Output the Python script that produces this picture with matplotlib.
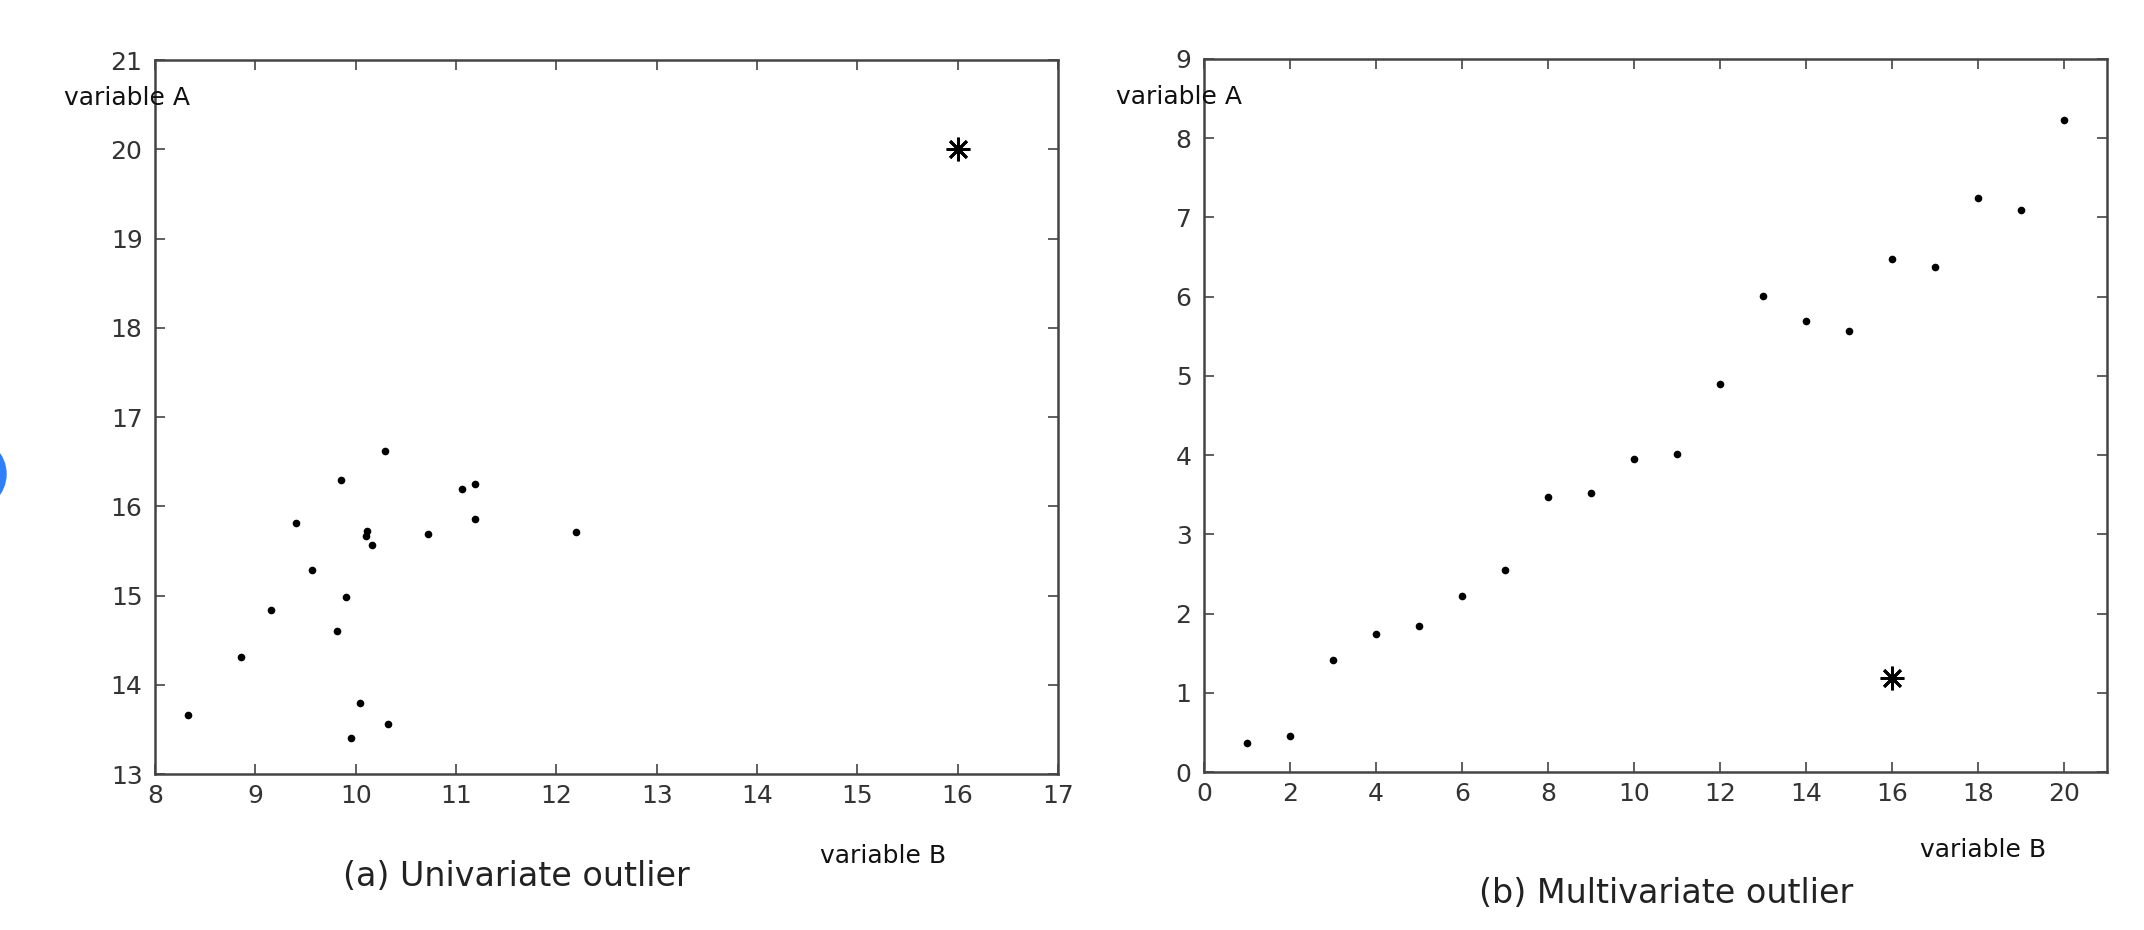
import matplotlib
matplotlib.use("Agg")
import matplotlib.pyplot as plt
from matplotlib.patches import Circle
import numpy as np

# ---- data ----
uni_b = [8.33, 8.86, 9.16, 9.41, 9.56, 9.85, 9.81, 9.90, 10.04, 9.95,
         10.11, 10.10, 10.16, 10.29, 10.32, 10.72, 11.06, 11.19, 11.19, 12.20]
uni_a = [13.66, 14.31, 14.84, 15.81, 15.29, 16.29, 14.60, 14.98, 13.79, 13.40,
         15.72, 15.67, 15.57, 16.62, 13.56, 15.69, 16.19, 16.25, 15.86, 15.71]
uni_outlier_b = [16.0]
uni_outlier_a = [20.0]

multi_b = list(range(1, 21))
multi_a = [0.37, 0.45, 1.41, 1.74, 1.84, 2.22, 2.55, 3.47, 3.52, 3.95,
           4.02, 4.90, 6.01, 5.69, 5.57, 6.48, 6.37, 7.25, 7.10, 8.23]
multi_outlier_b = [16.0]
multi_outlier_a = [1.19]

uni_xticks = list(range(8, 18))
uni_yticks = list(range(13, 22))
multi_xticks = list(range(0, 21, 2))
multi_yticks = list(range(0, 10))

caption_a = "(a) Univariate outlier"
caption_b = "(b) Multivariate outlier"
label_a = "variable A"
label_b = "variable B"

# ---- figure ----
W, H = 2144, 930
fig = plt.figure(figsize=(W / 100, H / 100), dpi=100)
fig.patch.set_facecolor("white")

def px(x, y):
    return x / W, 1 - y / H

spine_col = "#444444"
tick_col = "#333333"

def style(ax):
    for s in ax.spines.values():
        s.set_color(spine_col)
        s.set_linewidth(1.8)
    ax.tick_params(direction="in", top=True, right=True, length=7, width=1.2,
                   colors=spine_col, labelcolor=tick_col, labelsize=18)
    ax.tick_params(axis="y", pad=9)
    ax.tick_params(axis="x", pad=7)

ax1 = fig.add_axes([155 / W, 1 - 774 / H, 903 / W, 714 / H])
ax1.plot(uni_b, uni_a, "o", color="black", ms=5.5, mew=0)
ax1.plot(uni_outlier_b, uni_outlier_a, marker=(8, 2, 0), color="black",
         ms=17, mew=2.0, ls="none")
ax1.set_xlim(8, 17)
ax1.set_ylim(13, 21)
ax1.set_xticks(uni_xticks)
ax1.set_yticks(uni_yticks)
style(ax1)

ax2 = fig.add_axes([1204 / W, 1 - 772 / H, 903 / W, 713 / H])
ax2.plot(multi_b, multi_a, "o", color="black", ms=5.5, mew=0)
ax2.plot(multi_outlier_b, multi_outlier_a, marker=(8, 2, 0), color="black",
         ms=17, mew=2.0, ls="none")
ax2.set_xlim(0, 21)
ax2.set_ylim(0, 9)
ax2.set_xticks(multi_xticks)
ax2.set_yticks(multi_yticks)
style(ax2)

# axis labels placed like the original
fig.text(*px(127, 98), label_a, ha="center", va="center", fontsize=18, color="#111111")
fig.text(*px(1179, 97), label_a, ha="center", va="center", fontsize=18, color="#111111")
fig.text(*px(883, 856), label_b, ha="center", va="center", fontsize=18, color="#111111")
fig.text(*px(1983, 850), label_b, ha="center", va="center", fontsize=18, color="#111111")

# captions
fig.text(*px(516, 876), caption_a, ha="center", va="center", fontsize=24, color="#222222")
fig.text(*px(1666, 893), caption_b, ha="center", va="center", fontsize=24, color="#222222")

# blue circle fragment at the left edge
circ = Circle((-0.30, 4.56), 0.36, transform=fig.dpi_scale_trans,
              color="#2f7ff6", clip_on=False)
fig.patches.append(circ)

fig.savefig("out.png", dpi=100, facecolor="white")
